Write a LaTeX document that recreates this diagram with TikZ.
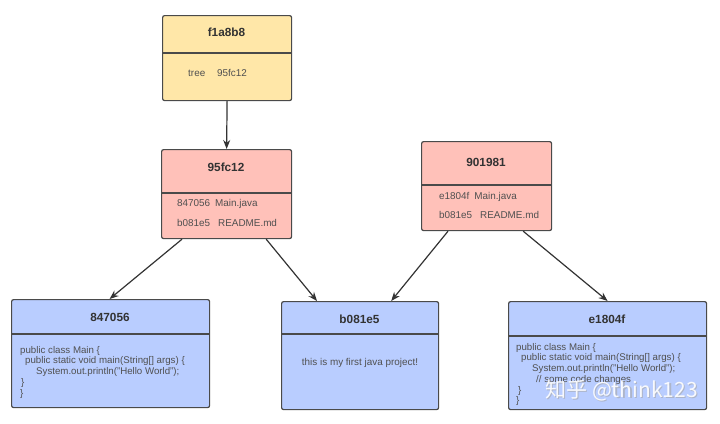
\documentclass[tikz,border=0pt]{standalone}
\usepackage{fontspec}
\setmainfont{Liberation Sans}
\newfontfamily\cjkfont{Noto Sans CJK SC}
\usetikzlibrary{arrows.meta,calc}
\definecolor{yfill}{HTML}{FFE7A8}
\definecolor{pfill}{HTML}{FFC1B9}
\definecolor{bfill}{HTML}{B9CDFF}
\definecolor{edge}{HTML}{4A4A4A}
\definecolor{ttext}{HTML}{333333}
\definecolor{btext}{HTML}{505050}
\tikzset{
  objbox/.style={draw=edge, line width=1.2pt, rounded corners=2pt, inner sep=0pt},
  divline/.style={draw=edge, line width=1.1pt},
  titletext/.style={font=\fontsize{11.8}{13}\selectfont\bfseries, text=ttext, inner sep=0pt},
  bodytext/.style={font=\fontsize{9.9}{11}\selectfont, text=btext, inner sep=0pt, anchor=west},
  codetext/.style={font=\fontsize{9.7}{10.75}\selectfont, text=btext, inner sep=0pt, anchor=north west, align=left},
  conn/.style={draw=ttext, line width=1.2pt, -{Stealth[length=9pt,width=7pt]}},
}
\begin{document}
\begin{tikzpicture}[x=1pt,y=-1pt]
\useasboundingbox (0,0) rectangle (720,423);
% boxes
\node[objbox, fill=yfill, minimum width=129pt, minimum height=85pt, anchor=north west] (f1) at (162,15) {};
\node[objbox, fill=pfill, minimum width=130pt, minimum height=89pt, anchor=north west] (t95) at (161,149) {};
\node[objbox, fill=pfill, minimum width=130pt, minimum height=89pt, anchor=north west] (t90) at (421,141) {};
\node[objbox, fill=bfill, minimum width=198pt, minimum height=108pt, anchor=north west] (b84) at (11,299) {};
\node[objbox, fill=bfill, minimum width=157pt, minimum height=108pt, anchor=north west] (b08) at (281,301) {};
\node[objbox, fill=bfill, minimum width=198pt, minimum height=108pt, anchor=north west] (be1) at (508,301) {};
% dividers
\draw[divline] (162,53) -- (291,53);
\draw[divline] (161,193) -- (291,193);
\draw[divline] (421,185) -- (551,185);
\draw[divline] (11,334) -- (209,334);
\draw[divline] (281,334) -- (438,334);
\draw[divline] (508,336) -- (706,336);
% titles
\node[titletext] (f1t) at (226.5,32) {f1a8b8};
\node[titletext] (t95t) at (226,167) {95fc12};
\node[titletext] (t90t) at (486,162) {901981};
\node[titletext] (b84t) at (110,317) {847056};
\node[titletext] (b08t) at (359.5,319) {b081e5};
\node[titletext] (be1t) at (607,319) {e1804f};
% bodies
\node[bodytext] (f1b) at (188,73) {tree\hspace{1.2em}95fc12};
\node[bodytext] (t95a) at (177,204) {847056\hspace{0.5em}Main.java};
\node[bodytext] (t95b) at (177,223) {b081e5\hspace{0.8em}README.md};
\node[bodytext] (t90a) at (439,197) {e1804f\hspace{0.5em}Main.java};
\node[bodytext] (t90b) at (439,215) {b081e5\hspace{0.8em}README.md};
\node[bodytext, anchor=center] (b08b) at (360,363) {this is my first java project!};
\node[codetext] (b84c) at (20,346) {public class Main \{\\
\hspace*{5pt}public static void main(String[] args) \{\\
\hspace*{16pt}System.out.println("Hello World");\\
\hspace*{1pt}\}\\
\}};
\node[codetext] (be1c) at (516,343) {public class Main \{\\
\hspace*{5pt}public static void main(String[] args) \{\\
\hspace*{16pt}System.out.println("Hello World");\\
\hspace*{20pt}// some code changes\\
\hspace*{2pt}\}\\
\}};
% connectors
\draw[conn] (f1.south) -- (t95.north);
\draw[conn] ([xshift=21pt]t95.south west) -- ([xshift=-1pt]b84.north);
\draw[conn] ([xshift=-26pt]t95.south east) -- ([xshift=36pt]b08.north west);
\draw[conn] ([xshift=27pt]t90.south west) -- ([xshift=-48pt]b08.north east);
\draw[conn] ([xshift=-29pt]t90.south east) -- (be1.north);
% watermark
\node[font=\cjkfont\fontsize{21}{24}\selectfont, text=gray!70, opacity=0.6, inner sep=0pt] (wm0) at (622.8,391.8) {知乎 @think123};
\node[font=\cjkfont\fontsize{21}{24}\selectfont, text=white, opacity=0.9, inner sep=0pt] (wm) at (621.5,390.5) {知乎 @think123};
\end{tikzpicture}
\end{document}
